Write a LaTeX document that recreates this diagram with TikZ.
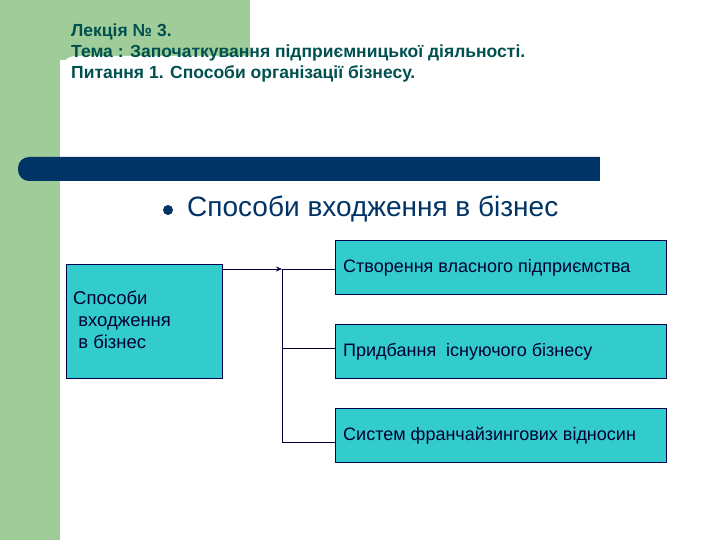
\documentclass[tikz,border=0pt]{standalone}
\usepackage{fontspec}
\setmainfont{Liberation Sans}
\usetikzlibrary{arrows.meta}
\begin{document}
\begin{tikzpicture}[x=1pt,y=-1pt,
  box/.style={draw=black!70!blue,fill=cyanbox,line width=0.8pt,inner sep=0pt},
  lbl/.style={anchor=west,font=\fontsize{18}{20}\selectfont,text=black!80!blue,inner sep=0pt},
  con/.style={draw=black!80!blue,line width=0.8pt}]
\definecolor{cyanbox}{RGB}{51,204,204}
\definecolor{greenbg}{RGB}{160,204,154}
\definecolor{navy}{RGB}{0,51,102}
\definecolor{teal}{RGB}{0,80,80}
\useasboundingbox (0,0) rectangle (720,540);
\fill[white] (0,0) rectangle (720,540);
\fill[greenbg] (0,0) rectangle (60,540);
\fill[greenbg] (0,0) rectangle (250,60);
\fill[white,rounded corners=16pt] (60,56) rectangle (730,550);
\fill[navy,rounded corners=11pt] (18,157) rectangle (640,181);
\fill[white] (600,150) rectangle (720,190);
\node[anchor=north west,align=left,text=teal,font=\bfseries\fontsize{17.5}{21}\selectfont,inner sep=0pt] (hdr) at (71,24)
 {Лекція № 3.\\Тема : Започаткування підприємницької діяльності.\\Питання 1. Способи організації бізнесу.};
\fill[navy] (168,210) circle (5);
\node[anchor=west,text=navy,font=\fontsize{28}{32}\selectfont,inner sep=0pt] (title) at (187,209) {Способи входження в бізнес};
\node[box,minimum width=156,minimum height=114] (L) at (144,321) {};
\node[anchor=north west,align=left,font=\fontsize{18.5}{22}\selectfont,text=black!80!blue,inner sep=0pt] (Lt) at (73,291) {Способи\\\ входження\\\ в бізнес};
\node[box,minimum width=331,minimum height=54] (A) at (500.5,267) {};
\node[box,minimum width=331,minimum height=54] (B) at (500.5,351) {};
\node[box,minimum width=331,minimum height=54] (C) at (500.5,435) {};
\node[lbl] at (343,268) {Створення власного підприємства};
\node[lbl] at (343,352) {Придбання \ існуючого бізнесу};
\node[lbl] at (343,436) {Систем франчайзингових відносин};
\coordinate (J) at (282,269);
\coordinate (J2) at (282,348);
\coordinate (J3) at (282,442);
\draw[con,-{Stealth[length=6pt,width=5pt]}] (L.east |- J) -- (J);
\draw[con] (J) -- (J3);
\draw[con] (J) -- (A.west |- J);
\draw[con] (J2) -- (B.west |- J2);
\draw[con] (J3) -- (C.west |- J3);
\end{tikzpicture}
\end{document}
